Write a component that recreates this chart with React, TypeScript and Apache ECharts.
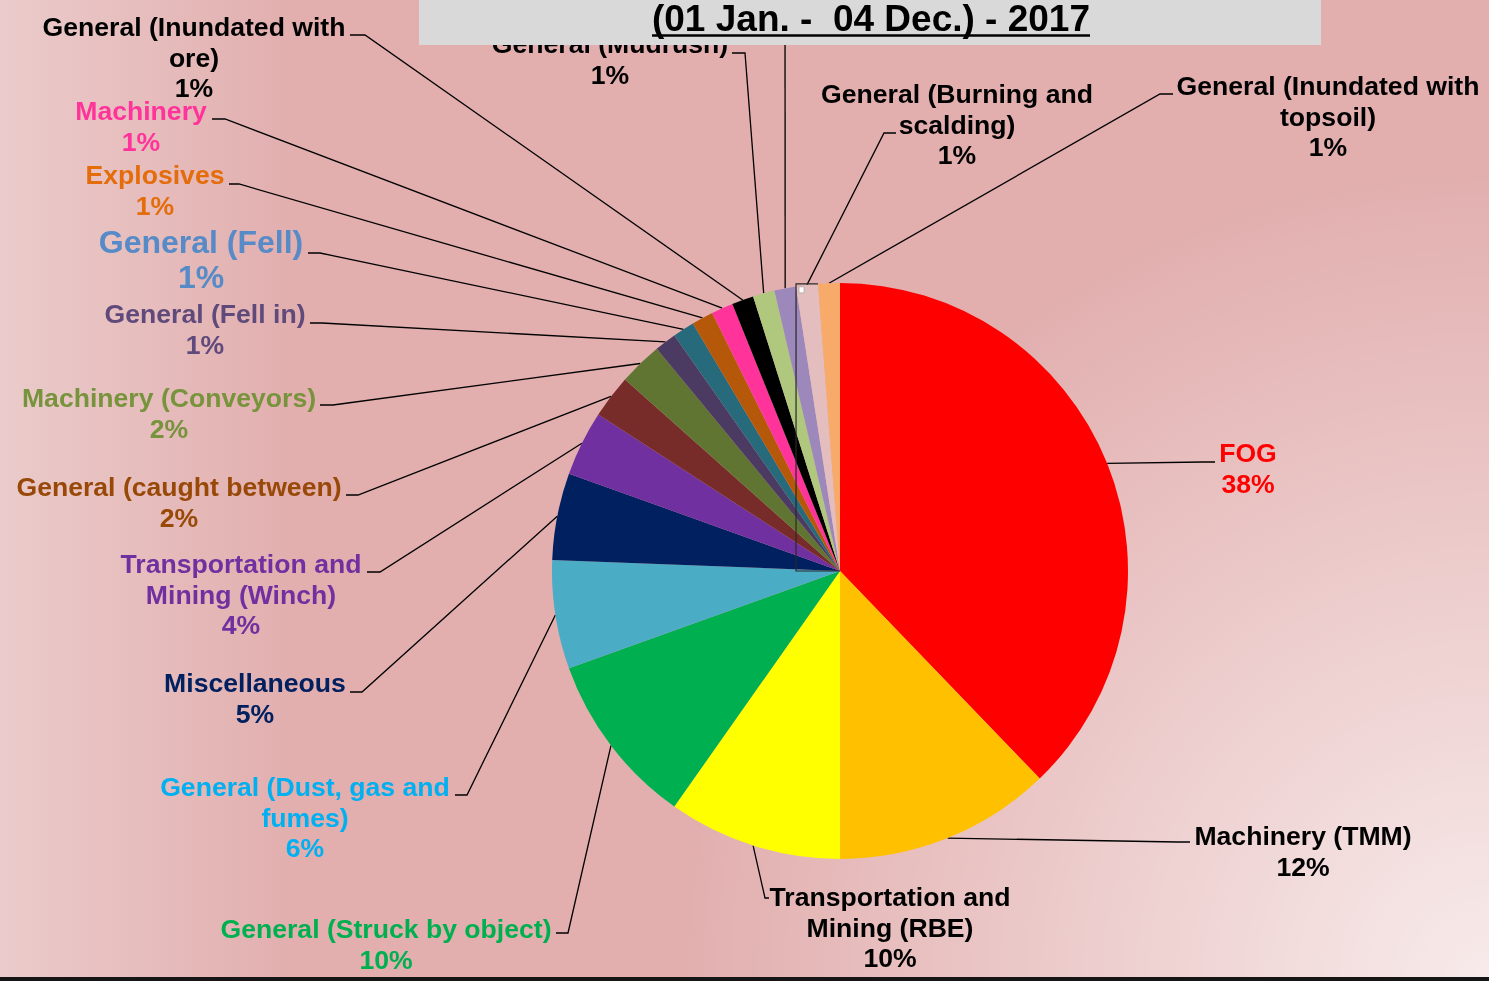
import React, { useEffect, useRef } from 'react';
import * as echarts from 'echarts';

// ---------- data ----------
const categories = [
  'FOG',
  'Machinery (TMM)',
  'Transportation and Mining (RBE)',
  'General (Struck by object)',
  'General (Dust, gas and fumes)',
  'Miscellaneous',
  'Transportation and Mining (Winch)',
  'General (caught between)',
  'Machinery (Conveyors)',
  'General (Fell in)',
  'General (Fell)',
  'Explosives',
  'Machinery',
  'General (Inundated with ore)',
  'General (Mudrush)',
  'General (Other)',
  'General (Burning and scalding)',
  'General (Inundated with topsoil)',
];
const values = [31, 10, 8, 8, 5, 4, 3, 2, 2, 1, 1, 1, 1, 1, 1, 1, 1, 1];
const sliceColors = [
  '#FF0000', '#FFC000', '#FFFF00', '#00B050', '#4BACC6', '#002060', '#7030A0',
  '#772C2A', '#617532', '#4B3A62', '#266A7B', '#B5580A', '#FF3399', '#000000',
  '#B0C77E', '#9C88BB', '#E4BEBE', '#F8AA6A',
];
const labelColors = [
  '#FF0000', '#000000', '#000000', '#00B050', '#00B0F0', '#002060', '#7030A0',
  '#984807', '#77933C', '#604A7B', '#568BC8', '#E46C0A', '#FF3399', '#000000',
  '#000000', '#000000', '#000000', '#000000',
];
const titleText = '(01 Jan. -  04 Dec.) - 2017';

// ---------- layout (label placement, not data) ----------
const W = 1489;
const H = 981;
const CX = 840;
const CY = 571;
const R = 288;
const FS = 26.6;
const labelPlacement = [
  { cx: 1248, cy: 453, ax: 1215, ay: 462, seg: -12, brk: 0, fs: FS },
  { cx: 1303, cy: 836, ax: 1190, ay: 842, seg: -12, brk: 0, fs: FS },
  { cx: 890, cy: 897, ax: 769, ay: 898, seg: -4, brk: 2, fs: FS },
  { cx: 386, cy: 929, ax: 556, ay: 933, seg: 12, brk: 0, fs: FS },
  { cx: 305, cy: 787, ax: 455, ay: 795, seg: 12, brk: 4, fs: FS },
  { cx: 255, cy: 683, ax: 350, ay: 692, seg: 12, brk: 0, fs: FS },
  { cx: 241, cy: 564, ax: 367, ay: 572, seg: 13, brk: 2, fs: FS },
  { cx: 179, cy: 487, ax: 346, ay: 495, seg: 12, brk: 0, fs: FS },
  { cx: 169, cy: 398, ax: 320, ay: 405, seg: 13, brk: 0, fs: FS },
  { cx: 205, cy: 314, ax: 310, ay: 323, seg: 12, brk: 0, fs: FS },
  { cx: 201, cy: 242, ax: 308, ay: 253, seg: 12, brk: 0, fs: 32 },
  { cx: 155, cy: 175, ax: 229, ay: 184, seg: 10, brk: 0, fs: FS },
  { cx: 141, cy: 111, ax: 212, ay: 119, seg: 13, brk: 0, fs: FS },
  { cx: 194, cy: 27, ax: 350, ay: 35, seg: 15, brk: 3, fs: FS },
  { cx: 610, cy: 44, ax: 732, ay: 53, seg: 13, brk: 0, fs: FS },
  { cx: 785, cy: -120, ax: 785, ay: -30, seg: 0, brk: 0, fs: FS },
  { cx: 957, cy: 94, ax: 896, ay: 133, seg: -12, brk: 3, fs: FS },
  { cx: 1328, cy: 86, ax: 1173, ay: 94, seg: -13, brk: 3, fs: FS },
];

const FONT = '"Liberation Sans", Arial, Helvetica, sans-serif';
const lineH = (fs: number) => (fs >= 30 ? 35 : 30.5);

function wrapName(name: string, brk: number) {
  if (!brk) return name;
  const words = name.split(' ');
  return words.slice(0, brk).join(' ') + '\n' + words.slice(brk).join(' ');
}

export default function App() {
  const ref = useRef<HTMLDivElement>(null);

  useEffect(() => {
    if (!ref.current) return;
    const chart = echarts.init(ref.current, null, { renderer: 'svg', width: W, height: H });

    const total = values.reduce((a, b) => a + b, 0);
    // bounding box of the slice whose picture fill failed (General (Burning and scalding))
    const brokenIdx = 16;
    const before = values.slice(0, brokenIdx).reduce((a, b) => a + b, 0);
    const a0 = (before / total) * Math.PI * 2;
    const a1 = ((before + values[brokenIdx]) / total) * Math.PI * 2;
    const leftX = CX + R * Math.sin(a0);
    const topY = CY - R * Math.cos(a1);
    const cutX = CX + R * Math.sin(a1);

    const option: any = {
      animation: false,
      graphic: [
        {
          type: 'rect',
          z: -20,
          silent: true,
          shape: { x: 0, y: 0, width: W, height: H },
          style: {
            fill: {
              type: 'linear', x: 0, y: 0, x2: 1, y2: 0,
              colorStops: [
                { offset: 0, color: '#EBCBCB' },
                { offset: 0.2, color: '#E2AEAE' },
                { offset: 1, color: '#E2AEAE' },
              ],
            },
          },
        },
        {
          type: 'rect',
          z: -19,
          silent: true,
          shape: { x: 0, y: 0, width: W, height: H },
          style: {
            fill: {
              type: 'radial', x: W, y: H, r: 820, global: true,
              colorStops: [
                { offset: 0, color: 'rgba(255,255,255,0.75)' },
                { offset: 1, color: 'rgba(255,255,255,0)' },
              ],
            },
          },
        },
        {
          type: 'polyline',
          z: 50,
          silent: true,
          shape: { points: [[cutX, topY], [leftX, topY], [leftX, CY], [CX, CY]] },
          style: { stroke: '#2a2a2a', lineWidth: 1.2, fill: null },
        },
        {
          type: 'rect',
          z: 51,
          silent: true,
          shape: { x: leftX + 3, y: topY + 3, width: 5, height: 6 },
          style: { fill: '#ffffff', stroke: '#999', lineWidth: 0.6 },
        },
        {
          type: 'rect',
          z: 100,
          silent: true,
          shape: { x: 419, y: 0, width: 902, height: 45 },
          style: { fill: '#D9D9D9' },
        },
        {
          type: 'text',
          z: 101,
          silent: true,
          x: 871,
          y: 18,
          style: {
            text: titleText,
            fill: '#000',
            font: `bold 37px ${FONT}`,
            align: 'center',
            verticalAlign: 'middle',
          },
        },
        {
          type: 'line',
          z: 101,
          silent: true,
          shape: { x1: 652, y1: 35.5, x2: 1090, y2: 35.5 },
          style: { stroke: '#000', lineWidth: 2.5 },
        },
        {
          type: 'rect',
          z: 100,
          silent: true,
          shape: { x: 0, y: 977, width: W, height: 4 },
          style: { fill: '#151515' },
        },
      ],
      series: [
        {
          type: 'pie',
          center: [CX, CY],
          radius: R,
          startAngle: 90,
          clockwise: true,
          avoidLabelOverlap: false,
          percentPrecision: 2,
          itemStyle: { borderWidth: 0 },
          label: {
            show: true,
            position: 'outside',
            fontFamily: FONT,
            fontWeight: 'bold',
            fontSize: FS,
            lineHeight: 30.5,
            formatter: (p: any) =>
              wrapName(p.name, labelPlacement[p.dataIndex].brk) + '\n' + Math.round(p.percent) + '%',
          },
          labelLine: {
            show: true,
            length: 10,
            length2: 10,
            smooth: false,
            lineStyle: { color: '#000', width: 1.3 },
          },
          labelLayout: (params: any) => {
            const p = labelPlacement[params.dataIndex];
            const lh = lineH(p.fs);
            const pts = params.labelLinePoints;
            const start = pts && pts[0] ? pts[0] : [p.ax, p.ay];
            return {
              x: p.cx,
              y: p.cy - lh / 2,
              align: 'center',
              verticalAlign: 'top',
              labelLinePoints: [start, [p.ax + p.seg, p.ay], [p.ax, p.ay]],
            };
          },
          emphasis: { disabled: true },
          data: categories.map((name, i) => ({
            name,
            value: values[i],
            itemStyle: { color: sliceColors[i] },
            label: {
              color: labelColors[i],
              fontSize: labelPlacement[i].fs,
              lineHeight: lineH(labelPlacement[i].fs),
            },
          })),
        },
      ],
    };

    chart.setOption(option);
    return () => chart.dispose();
  }, []);

  return (
    <div
      ref={ref}
      style={{ position: 'fixed', left: 0, top: 0, width: W, height: H }}
    />
  );
}
